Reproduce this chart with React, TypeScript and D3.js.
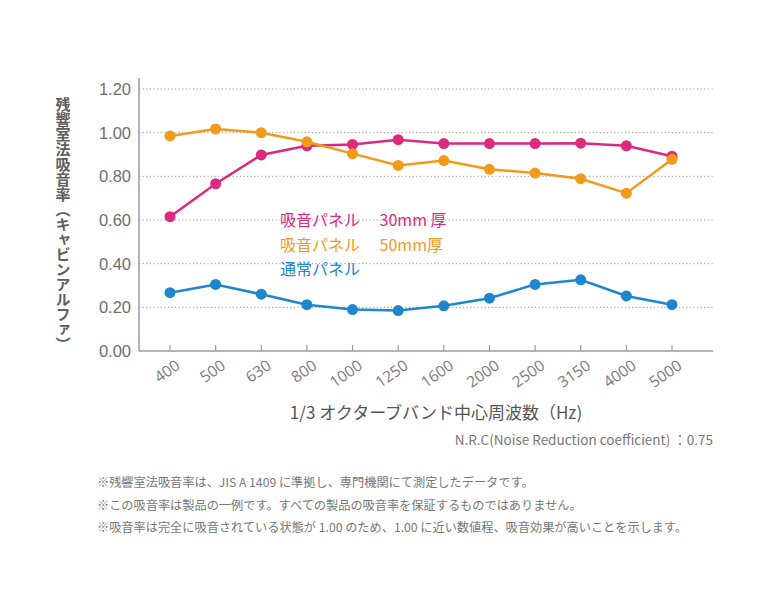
import React from "react";
import * as d3 from "d3";

const categories = ["400", "500", "630", "800", "1000", "1250", "1600", "2000", "2500", "3150", "4000", "5000"];
const panel30 = [0.615, 0.766, 0.898, 0.94, 0.946, 0.968, 0.95, 0.95, 0.95, 0.952, 0.94, 0.892];
const panel50 = [0.985, 1.017, 1.0, 0.958, 0.904, 0.85, 0.872, 0.832, 0.815, 0.789, 0.723, 0.878];
const normal = [0.267, 0.305, 0.26, 0.212, 0.19, 0.185, 0.207, 0.242, 0.305, 0.326, 0.252, 0.212];
const yTicks = [0, 0.2, 0.4, 0.6, 0.8, 1.0, 1.2];

const seriesNames = ["吸音パネル\u3000 30mm 厚", "吸音パネル\u3000 50mm厚", "通常パネル"];
const seriesColors = ["#dc2a80", "#f29a1a", "#1e86cf"];
const yTitle = "残響室法吸音率（キャビンアルファ）";
const xTitle = "1/3 オクターブバンド中心周波数（Hz)";
const nrcText = "N.R.C(Noise Reduction coefficient) ：0.75";
const footnotes = [
  "※残響室法吸音率は、JIS A 1409 に準拠し、専門機関にて測定したデータです。",
  "※この吸音率は製品の一例です。すべての製品の吸音率を保証するものではありません。",
  "※吸音率は完全に吸音されている状態が 1.00 のため、1.00 に近い数値程、吸音効果が高いことを示します。",
];

export default function App() {
  const W = 768, H = 594;
  const x0 = 139, x1 = 713, yBottom = 351, yTopAxis = 78;
  const x = d3.scalePoint<string>().domain(categories).range([170, 672]);
  const y = d3.scaleLinear().domain([0, 1.2]).range([yBottom, 89]);
  const series = [panel30, panel50, normal];
  const line = d3
    .line<number>()
    .x((_, i) => x(categories[i]) as number)
    .y((d) => y(d));
  const jp = "'Noto Sans CJK JP', 'Noto Sans', sans-serif";

  return (
    <svg
      width={W}
      height={H}
      viewBox={`0 0 ${W} ${H}`}
      style={{ position: "absolute", left: 0, top: 0, background: "#fff" }}
    >
      {/* grid */}
      {yTicks.filter((t) => t > 0).map((t) => (
        <line
          key={t}
          x1={x0}
          x2={x1}
          y1={y(t)}
          y2={y(t)}
          stroke="#999"
          strokeWidth={1}
          strokeDasharray="1.2 2.4"
        />
      ))}
      {/* axes */}
      <line x1={x0} x2={x0} y1={yTopAxis} y2={yBottom} stroke="#9a9a9a" strokeWidth={1.5} />
      <line x1={x0} x2={x1} y1={yBottom} y2={yBottom} stroke="#9a9a9a" strokeWidth={1.5} />
      {categories.map((c) => (
        <line key={c} x1={x(c)} x2={x(c)} y1={yBottom - 6} y2={yBottom} stroke="#9a9a9a" strokeWidth={1.2} />
      ))}
      {/* y tick labels */}
      {yTicks.map((t) => (
        <text
          key={t}
          x={131}
          y={y(t) + 6}
          textAnchor="end"
          fontFamily="'Liberation Sans', Arial, sans-serif"
          fontSize={16.5}
          fill="#6e6e6e"
        >
          {t.toFixed(2)}
        </text>
      ))}
      {/* x tick labels */}
      {categories.map((c) => (
        <text
          key={c}
          transform={`translate(${(x(c) as number) + 11},${368}) rotate(-35)`}
          textAnchor="end"
          fontFamily="'Open Sans', 'Noto Sans', sans-serif"
          fontSize={15.5}
          fill="#7a7a7a"
        >
          {c}
        </text>
      ))}
      {/* lines and points */}
      {series.map((s, si) => (
        <g key={si}>
          <path d={line(s) || ""} fill="none" stroke={seriesColors[si]} strokeWidth={2.5} />
          {s.map((v, i) => (
            <circle key={i} cx={x(categories[i])} cy={y(v)} r={5.5} fill={seriesColors[si]} />
          ))}
        </g>
      ))}
      {/* legend */}
      {seriesNames.map((n, i) => (
        <text
          key={n}
          x={280}
          y={226 + i * 24.5}
          fontFamily={jp}
          fontSize={16}
          fill={seriesColors[i]}
          style={{ whiteSpace: "pre" }}
        >
          {n}
        </text>
      ))}
      {/* y axis title (vertical) */}
      <text
        x={63}
        y={97}
        fontFamily={jp}
        fontSize={15}
        fontWeight={600}
        fill="#5e5e5e"
        style={{ writingMode: "vertical-rl" } as React.CSSProperties}
      >
        {yTitle}
      </text>
      {/* x axis title */}
      <text x={436} y={419} textAnchor="middle" fontFamily={jp} fontSize={17} fill="#555">
        {xTitle}
      </text>
      <text x={713} y={445} textAnchor="end" fontFamily={jp} fontSize={13.5} fill="#777">
        {nrcText}
      </text>
      {footnotes.map((f, i) => (
        <text key={i} x={97} y={487 + i * 22.5} fontFamily={jp} fontSize={12.2} fill="#777">
          {f}
        </text>
      ))}
    </svg>
  );
}
